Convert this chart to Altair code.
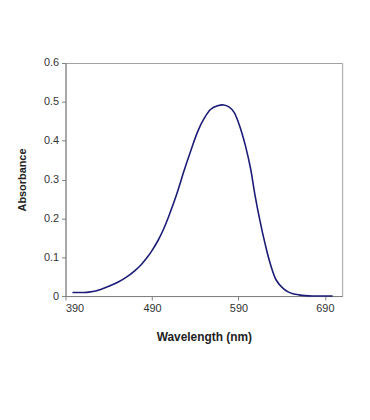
import altair as alt
import pandas as pd

wavelength = [398, 405, 412, 417, 425, 432, 440, 451, 460, 470, 478, 485, 490, 497, 503, 508, 514, 520, 527, 535, 543, 550, 558, 566, 573, 579, 585, 590, 594, 598, 604, 609, 615, 621, 627, 634, 642, 648, 653, 660, 667, 676, 688, 699]
absorbance = [0.009, 0.009, 0.009, 0.010, 0.013, 0.018, 0.025, 0.036, 0.048, 0.065, 0.082, 0.101, 0.117, 0.143, 0.170, 0.197, 0.233, 0.272, 0.322, 0.375, 0.424, 0.456, 0.481, 0.490, 0.492, 0.487, 0.473, 0.447, 0.420, 0.388, 0.329, 0.262, 0.193, 0.133, 0.082, 0.040, 0.019, 0.010, 0.006, 0.003, 0.001, 0.0, 0.0, 0.0]
x_ticks = [390, 490, 590, 690]
y_ticks = [0, 0.1, 0.2, 0.3, 0.4, 0.5, 0.6]

df = pd.DataFrame({"Wavelength": wavelength, "Absorbance": absorbance})

chart = alt.Chart(df).mark_line(color="#1c1c78", strokeWidth=1.6, interpolate="catmull-rom").encode(
    x=alt.X("Wavelength:Q", scale=alt.Scale(domain=[390, 710], nice=False, zero=False),
            axis=alt.Axis(values=x_ticks, title="Wavelength (nm)", grid=False,
                          titlePadding=18, titleFontSize=12)),
    y=alt.Y("Absorbance:Q", scale=alt.Scale(domain=[0, 0.6], nice=False),
            axis=alt.Axis(values=y_ticks, title="Absorbance", grid=False,
                          labelExpr="datum.value == 0 ? '0' : format(datum.value, '.1f')",
                          titlePadding=16, titleFontSize=11)),
).properties(
    width=279, height=235,
    autosize=alt.AutoSizeParams(type="none"),
    padding={"left": 58, "top": 54, "right": 20, "bottom": 60},
).configure_view(
    stroke="#a0a0a0", strokeWidth=1
).configure_axis(
    domainColor="#808080", tickColor="#808080", tickSize=4,
    labelFont="Liberation Sans", labelFontSize=11, labelColor="#333333", labelPadding=3,
    titleFont="Liberation Sans", titleFontWeight="bold", titleColor="#222222",
)

chart.save("out.html", embed_options={"renderer": "svg", "actions": False})
